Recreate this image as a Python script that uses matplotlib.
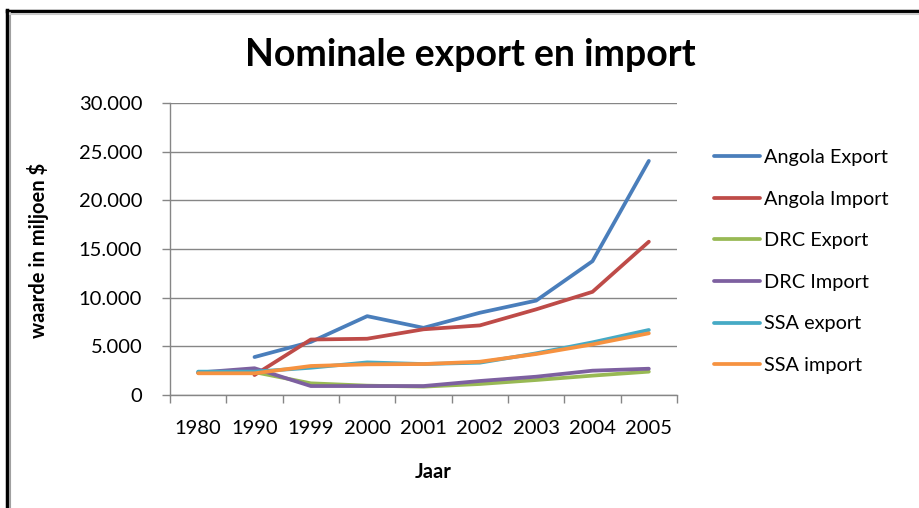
import numpy as np
import matplotlib
matplotlib.use("Agg")
import matplotlib.pyplot as plt
from matplotlib.lines import Line2D
from matplotlib.ticker import FuncFormatter, FixedLocator

plt.rcParams['font.family'] = ['Lato', 'DejaVu Sans']

years = ["1980", "1990", "1999", "2000", "2001", "2002", "2003", "2004", "2005"]
angola_export = [np.nan, 3900, 5450, 8100, 6900, 8450, 9700, 13750, 24050]
angola_import = [np.nan, 2050, 5700, 5780, 6750, 7150, 8800, 10600, 15750]
drc_export = [2300, 2350, 1200, 960, 860, 1130, 1540, 1990, 2400]
drc_import = [2300, 2750, 920, 920, 920, 1440, 1880, 2500, 2700]
ssa_export = [2400, 2400, 2800, 3350, 3180, 3320, 4280, 5410, 6680]
ssa_import = [2230, 2230, 2980, 3150, 3180, 3420, 4210, 5200, 6340]

series = [
    ("Angola Export", angola_export, "#4A7EBB"),
    ("Angola Import", angola_import, "#BE4B48"),
    ("DRC Export", drc_export, "#98B954"),
    ("DRC Import", drc_import, "#7D60A0"),
    ("SSA export", ssa_export, "#46AAC5"),
    ("SSA import", ssa_import, "#F69240"),
]

fig = plt.figure(figsize=(9.2, 5.08), dpi=100)
ax = fig.add_axes([170/920, 1-395/508, (677-170)/920, (395-103)/508])

x = np.arange(len(years))
for name, vals, col in series:
    ax.plot(x, vals, color=col, lw=2.7, label=name, solid_capstyle='round', solid_joinstyle='round')

ax.set_xlim(-0.5, len(years) - 0.5)
ax.set_ylim(0, 30000)
ax.set_yticks(np.arange(0, 30001, 5000))
ax.yaxis.set_major_formatter(FuncFormatter(lambda v, p: "0" if v == 0 else f"{int(v):,}".replace(",", ".")))
ax.set_xticks(x)
ax.set_xticklabels(years)
ax.xaxis.set_minor_locator(FixedLocator(np.arange(-0.5, len(years), 1.0)))
ax.tick_params(axis='x', which='major', length=0, pad=18, labelsize=14.5, colors='#000000')
ax.tick_params(axis='x', which='minor', length=6, color='#868686', width=1)
ax.tick_params(axis='y', which='major', length=6, color='#868686', width=1, labelsize=14.5, pad=14)
ax.grid(axis='y', color='#868686', lw=1)
ax.set_axisbelow(True)
for s in ['top', 'right']:
    ax.spines[s].set_visible(False)
for s in ['left', 'bottom']:
    ax.spines[s].set_color('#868686')
    ax.spines[s].set_linewidth(1)

fig.text(470/920, 1-55/508, "Nominale export en import", ha='center', va='center',
         fontsize=27, fontweight='bold')
fig.text(38/920, 1-250/508, "waarde in miljoen $", ha='center', va='center',
         rotation=90, fontsize=14.5, fontweight='bold')
fig.text(433/920, 1-472/508, "Jaar", ha='center', va='center', fontsize=14.5, fontweight='bold')

leg = ax.legend(loc='upper left', bbox_to_anchor=(706/920, 1-141/508), bbox_transform=fig.transFigure,
                frameon=False, fontsize=14.3, handlelength=2.3, handletextpad=0.2, labelspacing=1.24,
                borderaxespad=0)

# frame lines of the screenshot
fig.add_artist(Line2D([7/920, 7/920], [0, 1-10/508], transform=fig.transFigure, color='black', lw=2.5))
fig.add_artist(Line2D([7/920, 1], [1-11/508, 1-11/508], transform=fig.transFigure, color='black', lw=2.5))
fig.add_artist(Line2D([10/920, 10/920], [0, 1-13/508], transform=fig.transFigure, color='#A0A0A0', lw=1.5))
fig.add_artist(Line2D([10/920, 1], [1-13.5/508, 1-13.5/508], transform=fig.transFigure, color='#C8C8C8', lw=1.5))

fig.savefig("out.png", dpi=100)
